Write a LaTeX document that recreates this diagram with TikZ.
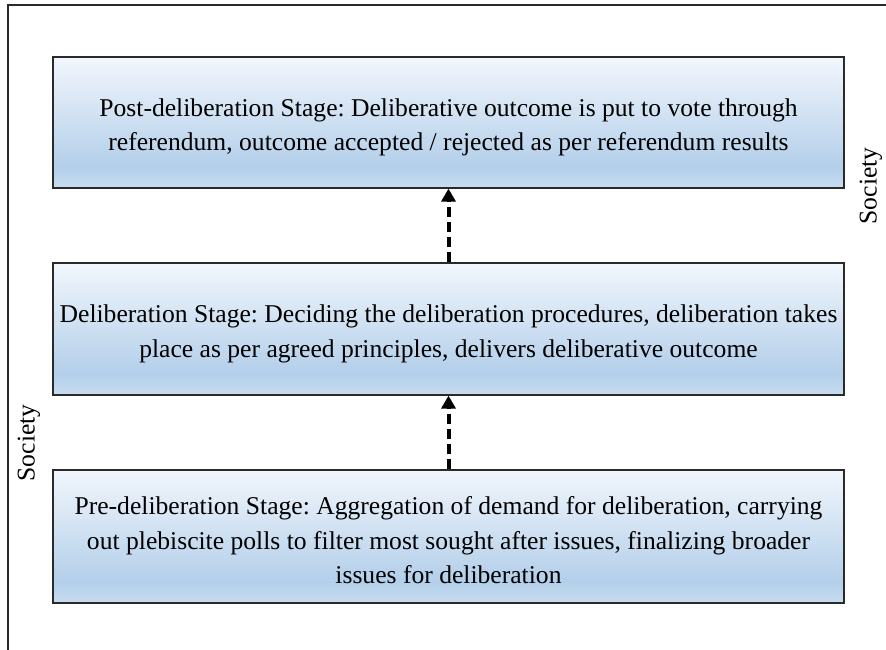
\documentclass[tikz,border=0pt]{standalone}
\usepackage{fontspec}
\setmainfont{Liberation Serif}
\usetikzlibrary{arrows.meta,shadows}

\definecolor{gradtop}{HTML}{F2F6FC}
\definecolor{gradmid}{HTML}{B3CFEA}
\definecolor{gradbot}{HTML}{C8DCF0}
\definecolor{framec}{HTML}{2A2A2A}

% light-to-blue fill, slightly lighter again at the very bottom
\pgfdeclareverticalshading{stagefill}{100bp}{%
  color(0bp)=(gradbot); color(25bp)=(gradbot); color(33bp)=(gradmid);
  color(75bp)=(gradtop); color(100bp)=(gradtop)}

\tikzset{
  stagebox/.style={rectangle, draw=framec, line width=1.2pt,
    shading=stagefill, minimum width=791pt, inner sep=0pt,
    drop shadow={shadow xshift=1.2pt, shadow yshift=-1.2pt, fill=black!45, opacity=0.6}},
  stagetext/.style={align=center, inner sep=0pt,
    font=\fontsize{25.6}{34.5}\selectfont},
  flowarrow/.style={line width=4pt, dash pattern=on 10pt off 5pt,
    -{Triangle[length=13pt,width=14pt]}},
  sidelabel/.style={rotate=90, font=\fontsize{25.6}{30}\selectfont},
}

\begin{document}
\frenchspacing
\begin{tikzpicture}[x=1pt,y=-1pt]
  \useasboundingbox (0,0) rectangle (886,650);

  % open frame around the diagram
  \draw[framec, line width=1.5pt] (8,650) -- (8,5) -- (886,5);

  % the three stage boxes
  \node[stagebox, minimum height=131pt] (post) at (448.5,122.5) {};
  \node[stagebox, minimum height=132pt] (delib) at (448.5,329) {};
  \node[stagebox, minimum height=133pt] (pre) at (448.5,536.5) {};

  % their texts, set a little below each box centre
  \node[stagetext] (posttext) at ([yshift=-5pt]post.center)
    {Post-deliberation Stage: Deliberative outcome is put to vote through\\
     referendum, outcome accepted / rejected as per referendum results};
  \node[stagetext] (delibtext) at ([yshift=-5pt]delib.center)
    {Deliberation Stage: Deciding the deliberation procedures, deliberation takes\\
     place as per agreed principles, delivers deliberative outcome};
  \node[stagetext] (pretext) at ([yshift=-4pt]pre.center)
    {Pre-deliberation Stage: Aggregation of demand for deliberation, carrying\\
     out plebiscite polls to filter most sought after issues, finalizing broader\\
     issues for deliberation};

  % upward flow between stages
  \draw[flowarrow] (pre.north) -- (delib.south);
  \draw[flowarrow] (delib.north) -- (post.south);

  \node[sidelabel] (socright) at (871,186) {Society};
  \node[sidelabel] (socleft) at (29,443) {Society};
\end{tikzpicture}
\end{document}
